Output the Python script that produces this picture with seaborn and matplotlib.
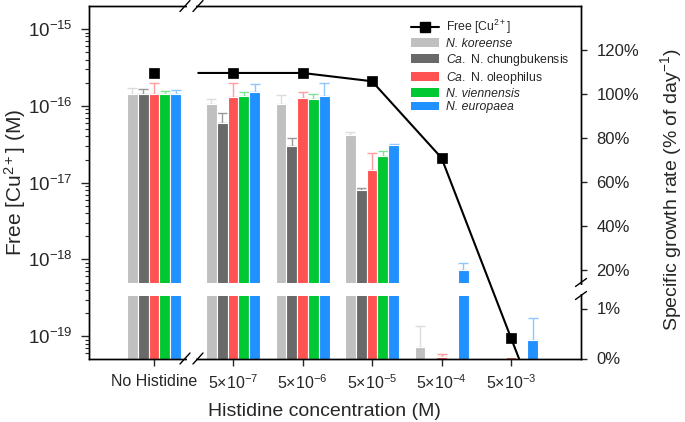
import numpy as np
import pandas as pd
import matplotlib
matplotlib.use("Agg")
import matplotlib.pyplot as plt
import seaborn as sns
from matplotlib.lines import Line2D
from matplotlib.patches import Patch, Rectangle
from matplotlib.ticker import NullFormatter, FixedLocator

# ---------------- data ----------------
categories = ["No Histidine", "5×10$^{-7}$", "5×10$^{-6}$", "5×10$^{-5}$",
              "5×10$^{-4}$", "5×10$^{-3}$"]
species = ["N. koreense", "Ca. N. chungbukensis", "Ca. N. oleophilus",
           "N. viennensis", "N. europaea"]
colors = ["#c0c0c0", "#696969", "#ff5353", "#00c832", "#2191ff"]
err_colors = ["#dcdcdc", "#9a9a9a", "#ff9e9e", "#7fe39a", "#8ec6ff"]

# specific growth rate (% of day^-1)
rate_koreense = [100.0, 95.5, 95.6, 81.4, 0.23, 0.0]
rate_chungbukensis = [100.0, 87.0, 76.5, 56.4, 0.0, 0.0]
rate_oleophilus = [100.0, 98.8, 98.3, 65.8, 0.025, 0.025]
rate_viennensis = [100.0, 99.5, 97.9, 72.1, 0.012, 0.012]
rate_europaea = [100.0, 101.0, 99.4, 77.1, 20.3, 0.37]

err_koreense = [3.0, 2.4, 4.3, 1.7, 0.42, 0.0]
err_chungbukensis = [2.5, 4.7, 3.6, 1.0, 0.0, 0.0]
err_oleophilus = [5.0, 6.4, 2.9, 7.4, 0.07, 0.0]
err_viennensis = [1.6, 1.5, 2.3, 2.1, 0.0, 0.0]
err_europaea = [2.0, 3.6, 5.9, 0.3, 3.0, 0.45]

# free Cu2+ (M)
free_cu = [2.68e-16, 2.68e-16, 2.68e-16, 2.09e-16, 2.1e-17, 9.5e-20]
free_cu_tail = 4.3e-22   # line continues below the axis after the last point
left_ticks = [1e-19, 1e-18, 1e-17, 1e-16, 1e-15]
right_ticks = [0, 1, 20, 40, 60, 80, 100, 120]
right_tick_labels = ["0%", "1%", "20%", "40%", "60%", "80%", "100%", "120%"]

rates = [rate_koreense, rate_chungbukensis, rate_oleophilus, rate_viennensis, rate_europaea]
errs = [err_koreense, err_chungbukensis, err_oleophilus, err_viennensis, err_europaea]

# ---------------- layout helpers ----------------
GAP_FIRST = 1.137                      # extra spacing after "No Histidine" (axis break)
pos = [0.0] + [GAP_FIRST + i for i in range(len(categories) - 1)]
GROUP_W = 0.777
XLIM = (-0.935, pos[-1] + 1.007)

LOW_PX, UP_PX, GAP_PX = 50.0, 2.2, 13.0
GAP_LO, GAP_HI = 1.26, 14.5
B1 = GAP_LO * LOW_PX
B2 = B1 + GAP_PX


def fwd(v):
    v = np.asarray(v, float)
    return np.where(v <= GAP_LO, v * LOW_PX,
                    np.where(v <= GAP_HI,
                             B1 + (v - GAP_LO) / (GAP_HI - GAP_LO) * GAP_PX,
                             B2 + (v - GAP_HI) * UP_PX))


def inv(u):
    u = np.asarray(u, float)
    return np.where(u <= B1, u / LOW_PX,
                    np.where(u <= B2,
                             GAP_LO + (u - B1) / GAP_PX * (GAP_HI - GAP_LO),
                             GAP_HI + (u - B2) / UP_PX))


# ---------------- style ----------------
sns.set_style("ticks")
plt.rcParams["font.family"] = ["Liberation Sans", "DejaVu Sans"]
plt.rcParams["mathtext.fontset"] = "custom"
plt.rcParams["mathtext.rm"] = "Liberation Sans"
plt.rcParams["mathtext.it"] = "Liberation Sans:italic"
plt.rcParams["mathtext.bf"] = "Liberation Sans:bold"
plt.rcParams["mathtext.sf"] = "Liberation Sans"
plt.rcParams["mathtext.default"] = "regular"
plt.rcParams["axes.linewidth"] = 1.0
plt.rcParams["axes.edgecolor"] = "black"

fig = plt.figure(figsize=(6.85, 4.22), dpi=100)
W, H = 685.0, 422.0
ax = fig.add_axes([89 / W, 1 - 358.5 / H, (581 - 89) / W, (358.5 - 6) / H])
ax2 = ax.twinx()
ax.set_zorder(ax2.get_zorder() + 1)
ax.patch.set_visible(False)

# ---------------- bars (right axis) ----------------
df = pd.DataFrame({
    "pos": np.repeat([pos], len(species), axis=0).ravel(),
    "species": np.repeat(species, len(categories)),
    "rate": np.concatenate(rates),
})
sns.barplot(data=df, x="pos", y="rate", hue="species", hue_order=species,
            palette=colors, native_scale=True, width=GROUP_W, dodge=True,
            errorbar=None, saturation=1, edgecolor="white", linewidth=0.8,
            legend=False, ax=ax2)

bar_w = GROUP_W / len(species)
for i, (r, e, ec) in enumerate(zip(rates, errs, err_colors)):
    xs = np.array(pos) + (i - (len(species) - 1) / 2) * bar_w
    r = np.array(r); e = np.array(e)
    m = e > 0
    ax2.errorbar(xs[m], r[m], yerr=[np.zeros(m.sum()), e[m]], fmt="none",
                 ecolor=ec, elinewidth=1.0, capsize=3.3, capthick=1.0, zorder=0.5)

ax2.set_yscale("function", functions=(fwd, inv))
ax2.set_ylim(0, inv(352.5))
ax2.axhspan(GAP_LO, GAP_HI, color="white", lw=0, zorder=1.5)
ax2.yaxis.set_major_locator(FixedLocator(right_ticks))
ax2.set_yticklabels(right_tick_labels)
ax2.yaxis.set_minor_locator(FixedLocator([]))
ax2.set_xlabel("")
ax2.set_ylabel("Specific growth rate (% of day$^{-1}$)", fontsize=14)
ax2.tick_params(axis="y", labelsize=12, length=4, width=1, pad=7, direction="out")

# ---------------- line (left axis) ----------------
ax.set_yscale("log")
line_x = [pos[1] - 0.5] + pos[1:] + [pos[-1] + 1]
line_y = [free_cu[1]] + free_cu[1:] + [free_cu_tail]
sns.lineplot(x=line_x, y=line_y, color="black", linewidth=1.5, sort=False,
             estimator=None, ax=ax)
sns.scatterplot(x=pos, y=free_cu, marker="s", s=55, color="black",
                edgecolor="black", linewidth=0.5, zorder=5, ax=ax)
ax.set_ylim(10 ** -19.29, 10 ** -14.70)
ax.yaxis.set_major_locator(FixedLocator(left_ticks))
minor = [m * 10.0 ** k for k in range(-20, -14) for m in range(2, 10)
         if 10 ** -19.29 <= m * 10.0 ** k <= 10 ** -14.70]
ax.yaxis.set_minor_locator(FixedLocator(minor))
ax.yaxis.set_minor_formatter(NullFormatter())
ax.set_xlim(*XLIM)
ax.set_xticks(pos)
ax.set_xticklabels(categories)
ax.tick_params(axis="x", labelsize=11.5, length=5, width=1, pad=6, direction="out")
ax.tick_params(axis="y", which="major", labelsize=13.5, length=6, width=1, pad=6,
               direction="out")
ax.tick_params(axis="y", which="minor", length=3, width=0.8, direction="out")
ax.set_xlabel("Histidine concentration (M)", fontsize=14)
ax.set_ylabel("Free [Cu$^{2+}$] (M)", fontsize=15)
ax.yaxis.set_label_coords(-0.124, 0.5)
ax2.yaxis.set_label_coords(1.157, 0.478)
ax.xaxis.set_label_coords(0.478, -0.125)

# ---------------- legend ----------------
handles = [Line2D([], [], color="black", lw=1.5, marker="s", markersize=6.5)]
handles += [Patch(facecolor=c, edgecolor="none") for c in colors]
labels = ["Free [Cu$^{2+}$]", "N. koreense", "$\\mathit{Ca.}$ N. chungbukensis",
          "$\\mathit{Ca.}$ N. oleophilus", "N. viennensis", "N. europaea"]
leg = ax.legend(handles, labels, loc="upper left",
                bbox_to_anchor=(411 / W, 1 - 18 / H), bbox_transform=fig.transFigure,
                frameon=False, fontsize=8.8, handlelength=2.3, handleheight=0.7,
                handletextpad=0.6, labelspacing=0.15, borderpad=0, borderaxespad=0)
for t, lab in zip(leg.get_texts(), labels):
    if lab.startswith("N."):
        t.set_fontstyle("italic")

# ---------------- axis-break decorations ----------------
to_fig = fig.transFigure.inverted()


def disp_x(xd):
    return ax.transData.transform((xd, 1e-17))[0]


ax_l, ax_b = ax.transAxes.transform((0, 0))
ax_r, ax_t = ax.transAxes.transform((1, 1))
brk1, brk2 = disp_x(0.446), disp_x(0.633)
for yb in (ax_b, ax_t):
    x0, y0 = to_fig.transform((brk1 + 2, yb - 3))
    x1, y1 = to_fig.transform((brk2 - 2, yb + 3))
    fig.add_artist(Rectangle((x0, y0), x1 - x0, y1 - y0, transform=fig.transFigure,
                             facecolor="white", edgecolor="none", zorder=20))
    for xc in (brk1, brk2):
        p0 = to_fig.transform((xc - 5, yb - 5.5))
        p1 = to_fig.transform((xc + 5, yb + 5.5))
        fig.add_artist(Line2D([p0[0], p1[0]], [p0[1], p1[1]], transform=fig.transFigure,
                              color="black", lw=1.0, zorder=21))

y_hi = ax2.transData.transform((0, GAP_HI))[1]
y_lo = ax2.transData.transform((0, GAP_LO))[1]
x0, y0 = to_fig.transform((ax_r - 3, y_lo + 2))
x1, y1 = to_fig.transform((ax_r + 3, y_hi - 2))
fig.add_artist(Rectangle((x0, y0), x1 - x0, y1 - y0, transform=fig.transFigure,
                         facecolor="white", edgecolor="none", zorder=20))
for yc in (y_hi, y_lo):
    p0 = to_fig.transform((ax_r - 5.5, yc - 4))
    p1 = to_fig.transform((ax_r + 5.5, yc + 4))
    fig.add_artist(Line2D([p0[0], p1[0]], [p0[1], p1[1]], transform=fig.transFigure,
                          color="black", lw=1.0, zorder=21))

fig.savefig("out.png", dpi=100, facecolor="white")
